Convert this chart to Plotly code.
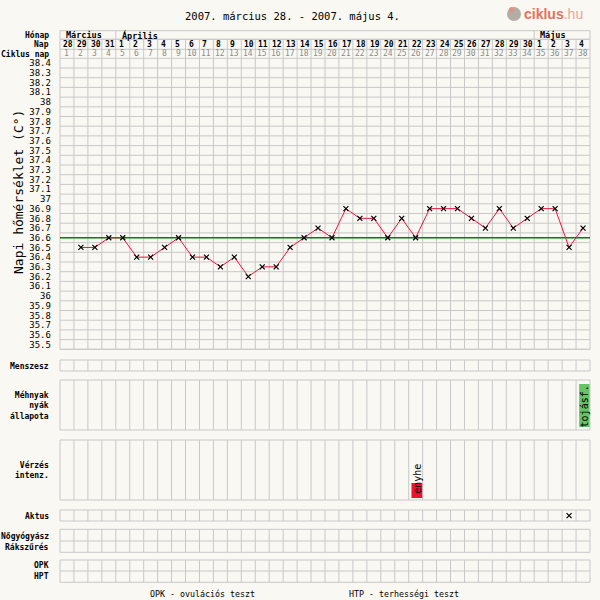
import plotly.graph_objects as go

# ---------------- data ----------------
title_text = "2007. március 28. - 2007. május 4."
months = ["Március", "Április", "Május"]
month_lengths = [4, 30, 4]
nap = [28, 29, 30, 31, 1, 2, 3, 4, 5, 6, 7, 8, 9, 10, 11, 12, 13, 14, 15, 16, 17,
       18, 19, 20, 21, 22, 23, 24, 25, 26, 27, 28, 29, 30, 1, 2, 3, 4]
cycle_day = [1, 2, 3, 4, 5, 6, 7, 8, 9, 10, 11, 12, 13, 14, 15, 16, 17, 18, 19, 20,
             21, 22, 23, 24, 25, 26, 27, 28, 29, 30, 31, 32, 33, 34, 35, 36, 37, 38]
temps = [None, 36.5, 36.5, 36.6, 36.6, 36.4, 36.4, 36.5, 36.6, 36.4, 36.4, 36.3, 36.4,
         36.2, 36.3, 36.3, 36.5, 36.6, 36.7, 36.6, 36.9, 36.8, 36.8, 36.6, 36.8, 36.6,
         36.9, 36.9, 36.9, 36.8, 36.7, 36.9, 36.7, 36.8, 36.9, 36.9, 36.5, 36.7]
coverline = 36.6
temp_tick_labels = ["38.4", "38.3", "38.2", "38.1", "38", "37.9", "37.8", "37.7", "37.6",
                    "37.5", "37.4", "37.3", "37.2", "37.1", "37", "36.9", "36.8", "36.7",
                    "36.6", "36.5", "36.4", "36.3", "36.2", "36.1", "36", "35.9", "35.8",
                    "35.7", "35.6", "35.5"]
cervix_day, cervix_text = 38, "tojásf."
bleeding_day, bleeding_text = 26, "enyhe"
intercourse_days = [37]
footer_left = "OPK - ovulációs teszt"
footer_right = "HTP - terhességi teszt"

# ---------------- styling / layout ----------------
W = H = 600
BG = "#F9F8F3"
GRID = "#C8C8C8"
MONO = "DejaVu Sans Mono"
X0, X1 = 60.0, 590.0
NCOL = len(cycle_day)
CW = (X1 - X0) / NCOL
PADX = 0.15
T_TOP, T_BOT = 58.3, 349.3
NROW = len(temp_tick_labels)
t_lo, t_hi = 35.45, 38.45
PADT = 0.01
px_per_unit = (T_BOT - T_TOP) / (t_hi - t_lo)


def py(p):
    return 1 - p / H


fig = go.Figure()

# temperature curve
fig.add_trace(go.Scatter(
    x=cycle_day, y=temps, mode="lines+markers",
    line=dict(color="#F0143C", width=1),
    marker=dict(symbol="x-thin", size=5, line=dict(color="black", width=1.2), color="black"),
    connectgaps=False, hoverinfo="skip", showlegend=False))

shapes = []
xl, xr = 0.5, NCOL + 0.5
bounds = [0.5 + k for k in range(NCOL + 1)]


def panel(top, bot, inner=()):
    d = ""
    for xb in bounds:
        d += f"M{xb},{py(top)}V{py(bot)}"
    for yy in (top, *inner, bot):
        d += f"M{xl},{py(yy)}H{xr}"
    shapes.append(dict(type="path", path=d, xref="x", yref="paper",
                       line=dict(color=GRID, width=1), layer="below"))


# header: month row (only month separators)
HM_TOP, HM_BOT = 30.7, 39.3
d = f"M{xl},{py(HM_TOP)}H{xr}M{xl},{py(HM_BOT)}H{xr}"
acc = 0
for L in [0] + month_lengths:
    acc += L
    d += f"M{0.5 + acc},{py(HM_TOP)}V{py(HM_BOT)}"
shapes.append(dict(type="path", path=d, xref="x", yref="paper",
                   line=dict(color=GRID, width=1), layer="below"))

# nap + ciklus + temperature columns
panel(HM_BOT, T_BOT, inner=(49.3,))
# temperature horizontal rows (data coords)
for k in range(NROW + 1):
    yv = t_lo + 0.1 * k
    shapes.append(dict(type="line", xref="x", yref="y", x0=xl, x1=xr, y0=yv, y1=yv,
                       line=dict(color=GRID, width=1), layer="below"))
# coverline
shapes.append(dict(type="line", xref="x", yref="y", x0=xl, x1=xr, y0=coverline, y1=coverline,
                   line=dict(color="#008000", width=1.5), layer="below"))

# lower panels
panel(360, 371)
panel(380, 430)
panel(440, 500)
panel(510, 521)
panel(529.3, 552.3, inner=(541,))
panel(560, 582.3, inner=(571,))

# event boxes
shapes.append(dict(type="rect", xref="x", yref="paper",
                   x0=cervix_day - 0.28, x1=cervix_day + 0.47, y0=py(427), y1=py(384),
                   fillcolor="#66C466", line=dict(width=0), layer="above"))
shapes.append(dict(type="rect", xref="x", yref="paper",
                   x0=bleeding_day - 0.3, x1=bleeding_day + 0.47, y0=py(498), y1=py(483),
                   fillcolor="#EE1133", line=dict(width=0), layer="above"))

# logo icon
shapes.append(dict(type="circle", xref="paper", yref="paper",
                   x0=507 / W, x1=521 / W, y0=py(21), y1=py(7),
                   fillcolor="#B4ACA6", line=dict(width=0)))
shapes.append(dict(type="circle", xref="paper", yref="paper",
                   x0=509 / W, x1=514 / W, y0=py(12), y1=py(7),
                   fillcolor="#E8907E", line=dict(width=0)))

fig.add_trace(go.Scatter(
    x=intercourse_days, y=[515.7] * len(intercourse_days), yaxis="y2", mode="markers",
    marker=dict(symbol="x-thin", size=5, line=dict(color="black", width=1.2)),
    hoverinfo="skip", showlegend=False))

ann = []


def text(x, y, s, size=9, color="black", xanchor="center", yanchor="middle",
         xref="paper", align="center", bold=False, family=MONO, angle=0, xshift=0):
    if bold:
        s = f"<b>{s}</b>"
    ann.append(dict(x=x, y=y, text=s, xref=xref, yref="paper", showarrow=False,
                    xanchor=xanchor, yanchor=yanchor, align=align, textangle=angle,
                    xshift=xshift, font=dict(family=family, size=size, color=color)))


text(292 / W, py(16), title_text, size=10.5)
text(553 / W, py(14), '<span style="color:#E8705C"><b>ciklus</b></span>'
     '<span style="color:#EFA595">.hu</span>', size=14,
     family="Liberation Sans, Arial, sans-serif")

LX = 51 / W
LS = 8
text(LX, py(35), "Hónap", size=LS, xanchor="right", bold=True)
text(LX, py(44.3), "Nap", size=LS, xanchor="right", bold=True)
text(LX, py(54), "Ciklus nap", size=LS, xanchor="right", bold=True)

acc = 0
for name, L in zip(months, month_lengths):
    text(0.5 + acc, py(35), name, size=8.5, xanchor="left", xref="x", bold=True, xshift=4)
    acc += L
for cd, n in zip(cycle_day, nap):
    text(cd - 0.5, py(44.3), str(n), size=8, xanchor="left", xref="x", bold=True, xshift=1)
    text(cd, py(54), str(cd), size=8, xref="x", color="#8C8C8C")

text(18 / W, py(192), "Napi hőmérséklet (C°)", size=13, angle=-90)

text(LX, py(366), "Menszesz", size=LS, xanchor="right", bold=True)
text(LX, py(405), "Méhnyak<br>nyák<br>állapota", size=LS, xanchor="right", align="right", bold=True)
text(LX, py(470), "Vérzés<br>intenz.", size=LS, xanchor="right", align="right", bold=True)
text(LX, py(516), "Aktus", size=LS, xanchor="right", bold=True)
text(LX, py(535.5), "Nőgyógyász", size=LS, xanchor="right", bold=True)
text(LX, py(546.8), "Rákszűrés", size=LS, xanchor="right", bold=True)
text(LX, py(565.5), "OPK", size=LS, xanchor="right", bold=True)
text(LX, py(576.7), "HPT", size=LS, xanchor="right", bold=True)

text(cervix_day + 0.1, py(406), cervix_text, size=10, xref="x", angle=-90)
text(bleeding_day + 0.08, py(479), bleeding_text, size=10, xref="x", angle=-90)

text(202 / W, py(594), footer_left, size=8.3)
text(404 / W, py(594), footer_right, size=8.3)

fig.update_layout(
    width=W, height=H, margin=dict(l=0, r=0, t=0, b=0),
    paper_bgcolor=BG, plot_bgcolor="rgba(0,0,0,0)",
    shapes=shapes, annotations=ann, showlegend=False,
    xaxis=dict(range=[xl - PADX, xr + PADX],
               domain=[(X0 - PADX * CW) / W, (X1 + PADX * CW) / W],
               visible=False, fixedrange=True),
    yaxis=dict(range=[t_lo - PADT, t_hi + PADT],
               domain=[py(T_BOT + PADT * px_per_unit), py(T_TOP - PADT * px_per_unit)],
               tickmode="array", tickvals=[float(v) for v in temp_tick_labels],
               ticktext=temp_tick_labels, showgrid=False, zeroline=False, showline=False,
               ticks="", ticklabelstandoff=6,
               tickfont=dict(family=MONO, size=9, color="black"), fixedrange=True),
    yaxis2=dict(range=[H, 0], domain=[0, 1], anchor="x", visible=False, fixedrange=True),
)

fig.write_html("out.html", config={"displayModeBar": False, "staticPlot": True},
               post_script="document.body.style.margin='0';document.body.style.background='%s';" % BG)
